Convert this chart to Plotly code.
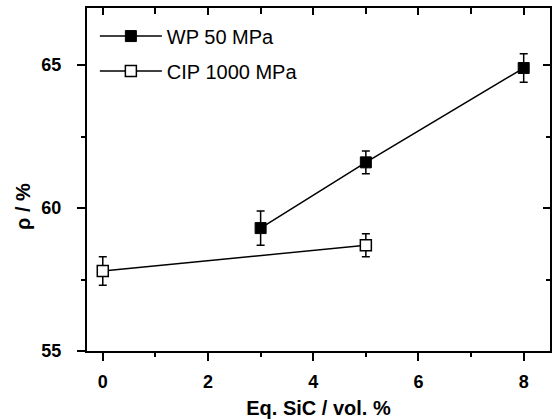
import plotly.graph_objects as go

# Relative density vs. equivalent SiC content
wp_sic = [3, 5, 8]
wp_rho = [59.3, 61.6, 64.9]
wp_err = [0.6, 0.4, 0.5]

cip_sic = [0, 5]
cip_rho = [57.8, 58.7]
cip_err = [0.5, 0.4]

x_range = [-0.3, 8.5]
y_range = [55, 67]
x_ticks = [0, 2, 4, 6, 8]
y_ticks = [55, 60, 65]

FONT = "Liberation Sans, Arial, sans-serif"
BLACK = "#000000"

fig = go.Figure()

fig.add_trace(go.Scatter(
    x=wp_sic, y=wp_rho, name="WP 50 MPa", mode="lines+markers", legendgroup="wp",
    line=dict(color=BLACK, width=1.5),
    marker=dict(symbol="square", size=11, color=BLACK, line=dict(color=BLACK, width=1)),
    error_y=dict(type="data", array=wp_err, color=BLACK, thickness=1.5, width=4),
))
fig.add_trace(go.Scatter(
    x=cip_sic, y=cip_rho, name="CIP 1000 MPa", mode="lines+markers", legendgroup="cip",
    line=dict(color=BLACK, width=1.5),
    marker=dict(symbol="square", size=11, color="white", line=dict(color=BLACK, width=1.5)),
    error_y=dict(type="data", array=cip_err, color=BLACK, thickness=1.5, width=4),
))

axis_common = dict(showgrid=False, zeroline=False, showline=True,
                   linecolor=BLACK, linewidth=2, tickcolor=BLACK, tickwidth=2)

fig.update_layout(
    width=552, height=420,
    margin=dict(l=87, r=2, t=8, b=69),
    paper_bgcolor="white", plot_bgcolor="white",
    font=dict(family=FONT, color=BLACK),
    showlegend=True,
    legend=dict(x=0.017, y=0.975, xanchor="left", yanchor="top",
                bgcolor="rgba(0,0,0,0)", font=dict(size=20, family=FONT),
                itemwidth=62, tracegroupgap=6),
    xaxis=dict(range=x_range, tickvals=x_ticks, ticks="outside", ticklen=8,
               tickfont=dict(size=18, family=FONT, weight="bold"),
               ticklabelstandoff=5,
               minor=dict(dtick=1, tick0=0, ticks="outside", ticklen=4,
                          tickwidth=2, tickcolor=BLACK),
               title=dict(text="<b>Eq. SiC / vol. %</b>", font=dict(size=20, family=FONT),
                          standoff=10),
               **axis_common),
    yaxis=dict(range=y_range, tickvals=y_ticks, ticks="outside", ticklen=8,
               tickfont=dict(size=18, family=FONT, weight="bold"),
               ticklabelstandoff=12,
               minor=dict(dtick=2.5, tick0=55, ticks="outside", ticklen=4,
                          tickwidth=2, tickcolor=BLACK),
               **axis_common),
    xaxis2=dict(overlaying="x", side="top", range=x_range, tickvals=x_ticks,
                ticks="inside", ticklen=7, showticklabels=False,
                minor=dict(dtick=1, tick0=0, ticks="inside", ticklen=6,
                           tickwidth=2, tickcolor=BLACK),
                **axis_common),
    yaxis2=dict(overlaying="y", side="right", range=y_range, tickvals=y_ticks,
                ticks="inside", ticklen=7, showticklabels=False,
                minor=dict(dtick=2.5, tick0=55, ticks="inside", ticklen=4,
                           tickwidth=2, tickcolor=BLACK),
                **axis_common),
)

# y-axis title, placed slightly below the plot's vertical centre
fig.add_annotation(text="<b>ρ / %</b>", textangle=-90, xref="paper", yref="paper",
                   x=-0.138, y=0.42, xanchor="center", yanchor="middle",
                   showarrow=False, font=dict(size=20, family=FONT, color=BLACK))

# invisible trace anchoring the mirrored top/right axes
fig.add_trace(go.Scatter(x=x_range, y=y_range, xaxis="x2", yaxis="y2",
                         mode="markers", marker=dict(opacity=0),
                         showlegend=False, hoverinfo="skip"))

fig.write_html("out.html")
